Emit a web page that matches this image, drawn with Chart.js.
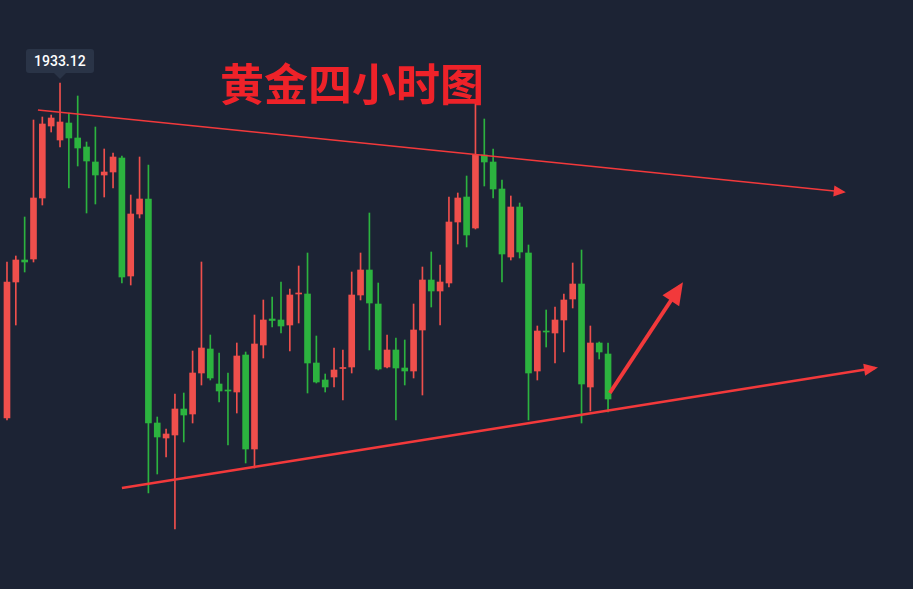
<!DOCTYPE html>
<html>
<head>
<meta charset="utf-8">
<script src="https://cdn.jsdelivr.net/npm/chart.js@4.4.1/dist/chart.umd.min.js"></script>
<style>
  html, body { margin: 0; padding: 0; background: #1c2334; }
  #wrap { position: relative; width: 913px; height: 589px; overflow: hidden; background: #1c2334; }
  #c { display: block; }
  #title { position: absolute; left: 220px; top: 60px; font-family: "Noto Sans CJK SC", sans-serif; font-weight: 700; font-size: 44px; line-height: 1; color: #ee2229; white-space: nowrap; }
  #tip { position: absolute; background: #2a3447; color: #ffffff; font-family: Roboto, "Liberation Sans", sans-serif; font-size: 14px; font-weight: 500; line-height: 24px; height: 24px; padding: 0 8px; border-radius: 3px; white-space: nowrap; }
  #tip:after { content: ""; position: absolute; left: 50%; margin-left: -6px; top: 24px; border-left: 6px solid transparent; border-right: 6px solid transparent; border-top: 6px solid #2a3447; }
</style>
</head>
<body>
<div id="wrap">
  <canvas id="c" width="913" height="589"></canvas>
  <div id="title">黄金四小时图</div>
  <div id="tip"></div>
</div>
<script>
// ---- Candle data (4H gold) ----
const opens  = [1899.62,1913.22,1915.42,1915.52,1921.62,1928.82,1927.42,1929.12,1927.62,1926.72,1925.22,1923.92,1924.22,1925.62,1913.82,1920.02,1921.52,1899.12,1897.62,1897.92,1900.52,1900.02,1904.12,1906.52,1903.02,1902.42,1902.22,1905.92,1896.52,1906.92,1909.52,1909.42,1908.92,1912.02,1912.02,1905.12,1903.42,1903.72,1904.57,1904.72,1911.92,1914.42,1911.02,1904.72,1906.42,1904.62,1904.32,1908.42,1913.42,1912.32,1913.12,1919.22,1921.72,1918.62,1925.92,1925.22,1922.52,1915.72,1920.72,1916.12,1904.32,1908.32,1908.12,1909.42,1911.52,1913.02,1902.72,1907.12,1906.02];
const highs  = [1915.22,1915.82,1919.72,1929.42,1929.72,1929.92,1933.12,1930.12,1931.82,1927.22,1928.72,1926.52,1926.12,1925.82,1921.92,1925.72,1924.92,1899.72,1898.52,1902.02,1902.12,1906.32,1915.22,1907.92,1906.12,1904.12,1907.12,1906.22,1909.92,1911.42,1911.72,1913.22,1912.52,1914.82,1916.12,1907.82,1904.02,1906.62,1906.42,1914.22,1916.12,1920.12,1913.12,1907.92,1907.62,1907.42,1911.02,1914.72,1916.22,1914.92,1921.72,1922.12,1923.82,1931.22,1929.52,1926.52,1923.42,1921.82,1921.12,1916.92,1908.82,1910.42,1910.72,1912.02,1915.12,1916.42,1908.82,1907.22,1907.12];
const lows   = [1899.42,1908.92,1914.22,1915.22,1920.92,1928.22,1926.72,1922.62,1924.82,1920.12,1921.02,1921.72,1922.62,1913.12,1912.92,1919.62,1892.12,1894.02,1895.72,1888.52,1897.22,1899.12,1902.92,1903.42,1901.22,1896.92,1900.12,1895.12,1894.62,1905.62,1908.72,1908.12,1906.32,1909.12,1902.12,1903.12,1902.22,1902.72,1901.42,1904.12,1911.42,1906.42,1904.42,1904.62,1899.42,1902.92,1903.62,1901.92,1910.72,1908.92,1912.72,1917.02,1916.72,1918.52,1922.82,1921.62,1913.22,1915.42,1915.62,1899.42,1903.42,1906.72,1905.12,1906.22,1910.62,1899.12,1900.32,1905.52,1900.22];
const closes = [1913.22,1915.42,1915.22,1921.62,1929.02,1929.62,1929.22,1927.62,1926.62,1925.32,1923.92,1924.22,1925.72,1913.72,1920.02,1921.52,1899.12,1897.72,1898.02,1900.52,1899.92,1904.12,1906.62,1903.62,1902.32,1902.32,1905.82,1896.52,1907.02,1909.42,1909.37,1908.82,1911.92,1912.12,1905.12,1903.22,1902.72,1904.42,1904.67,1911.92,1914.42,1911.12,1904.52,1906.42,1904.62,1904.32,1908.42,1913.42,1912.32,1913.22,1919.22,1921.62,1917.92,1925.92,1925.22,1922.52,1916.02,1920.72,1916.22,1904.12,1908.32,1908.22,1909.42,1911.42,1913.02,1903.02,1907.12,1906.22,1901.52];

// ---- Drawn lines (index, price) ----
const upperLineX = [3.5, 94.7];
const upperLineY = [1930.42, 1922.22];
const lowerLineX = [13.0, 98.2];
const lowerLineY = [1892.62, 1904.62];
const arrowX = [68.2, 76.2];
const arrowY = [1902.12, 1912.82];

const upColor = '#ef4f4c';
const downColor = '#2cb33f';
const lineColor = '#f2393b';

const idx = opens.map((_, i) => i);
const candleColors = idx.map(i => closes[i] >= opens[i] ? upColor : downColor);
const bodyData = idx.map(i => ({ x: i, y: [opens[i], closes[i]] }));
const wickData = idx.map(i => ({ x: i, y: [lows[i], highs[i]] }));
const toPts = (xs, ys) => xs.map((x, i) => ({ x: x, y: ys[i] }));

const arrowHeads = {
  id: 'arrowHeads',
  afterDatasetsDraw(chart) {
    const ctx = chart.ctx;
    chart.data.datasets.forEach((ds, di) => {
      if (!ds.arrowHead) return;
      const pts = chart.getDatasetMeta(di).data;
      const a = pts[pts.length - 2], b = pts[pts.length - 1];
      const ang = Math.atan2(b.y - a.y, b.x - a.x);
      const c = Math.cos(ang), s = Math.sin(ang);
      const len = ds.arrowHead.len, half = ds.arrowHead.half;
      const ext = ds.borderWidth / 2 * len / half;
      const tx = b.x + c * ext, ty = b.y + s * ext;
      ctx.save();
      ctx.fillStyle = ds.borderColor;
      ctx.beginPath();
      ctx.moveTo(tx, ty);
      ctx.lineTo(tx - len * c + half * s, ty - len * s - half * c);
      ctx.lineTo(tx - len * c - half * s, ty - len * s + half * c);
      ctx.closePath();
      ctx.fill();
      ctx.restore();
    });
  }
};

const chart = new Chart(document.getElementById('c'), {
  type: 'bar',
  data: {
    datasets: [
      { type: 'line', data: toPts(upperLineX, upperLineY), borderColor: lineColor, borderWidth: 1.6, pointRadius: 0, arrowHead: { len: 12, half: 5.5 } },
      { type: 'line', data: toPts(lowerLineX, lowerLineY), borderColor: lineColor, borderWidth: 2.6, pointRadius: 0, arrowHead: { len: 14, half: 6 } },
      { type: 'line', data: toPts(arrowX, arrowY), borderColor: lineColor, borderWidth: 4, pointRadius: 0, arrowHead: { len: 22, half: 10 } },
      { data: bodyData, backgroundColor: candleColors, barThickness: 6, minBarLength: 1, grouped: false, borderWidth: 0 },
      { data: wickData, backgroundColor: candleColors, barThickness: 1, grouped: false, borderWidth: 0 }
    ]
  },
  options: {
    responsive: false,
    animation: false,
    events: [],
    layout: { padding: 0 },
    plugins: { legend: { display: false }, tooltip: { enabled: false }, title: { display: false } },
    scales: {
      x: { type: 'linear', display: false, min: -0.79, max: 102.5, offset: false },
      y: { type: 'linear', display: false, min: 1882.52, max: 1941.42 }
    }
  },
  plugins: [arrowHeads]
});

// Max-high marker label
let hi = 0;
highs.forEach((h, i) => { if (h > highs[hi]) hi = i; });
const tip = document.getElementById('tip');
tip.textContent = highs[hi].toFixed(2);
const px = chart.scales.x.getPixelForValue(hi);
const py = chart.scales.y.getPixelForValue(highs[hi]);
tip.style.left = (px - tip.offsetWidth / 2) + 'px';
tip.style.top = (py - 34) + 'px';
</script>
</body>
</html>
